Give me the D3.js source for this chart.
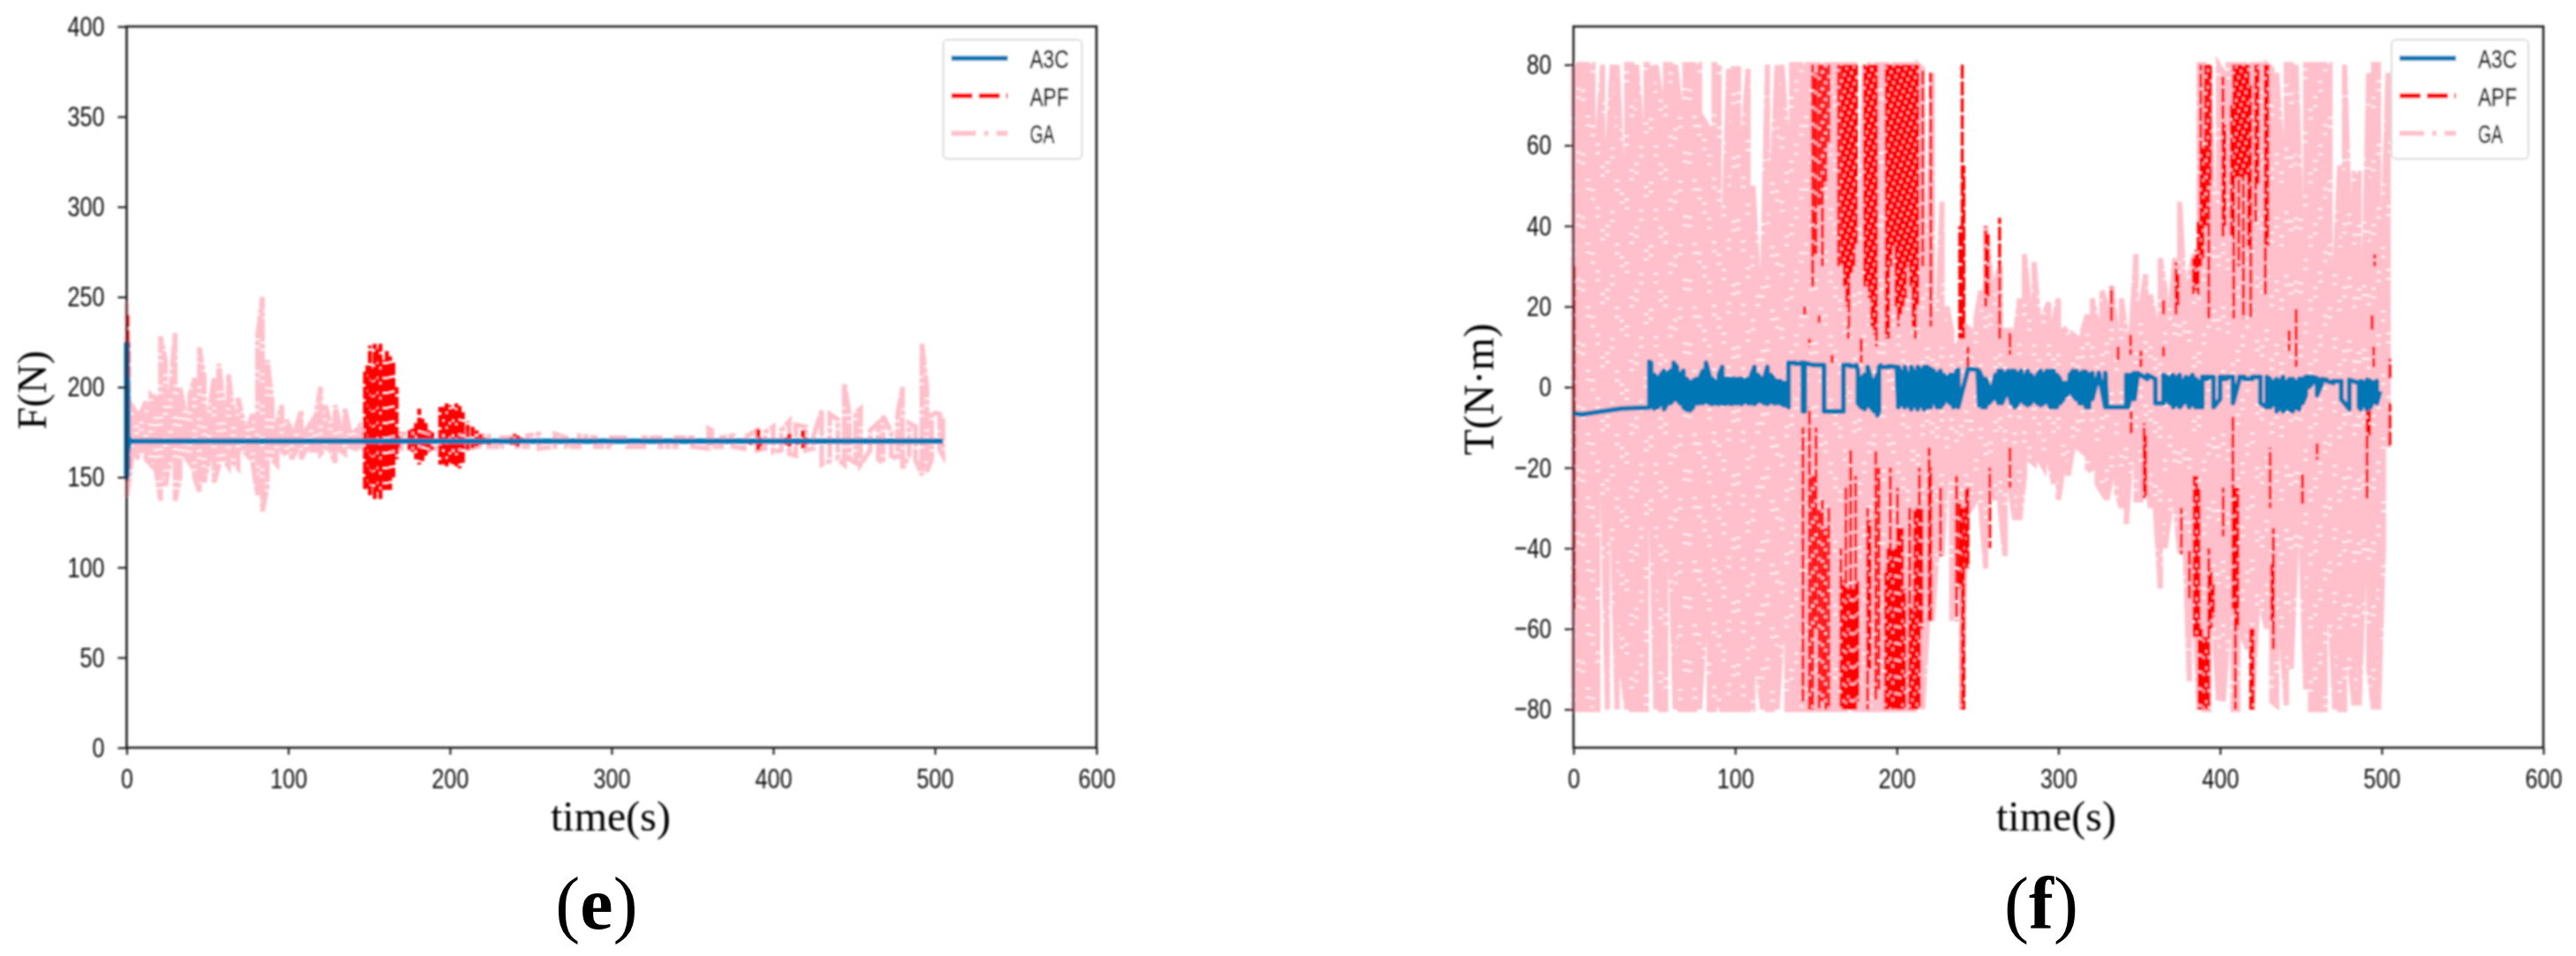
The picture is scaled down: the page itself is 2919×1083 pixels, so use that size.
<!DOCTYPE html>
<html><head><meta charset="utf-8">
<script src="https://cdnjs.cloudflare.com/ajax/libs/d3/7.8.5/d3.min.js"></script>
<style>html,body{margin:0;padding:0;background:#fff}svg{display:block}</style>
</head><body><svg id="c" width="2919" height="1083"></svg>
<script>
// ---------- shared labels ----------
const seriesNames = ["A3C","APF","GA"];
const xTicks = [0,100,200,300,400,500,600];
const yTicksF = [0,50,100,150,200,250,300,350,400];
const yTicksT = [-80,-60,-40,-20,0,20,40,60,80];

// ---------- panel (e) F(N) ----------
const fGaT  = [0,3,6,9,12,15,18,21,24,27,30,33,36,39,42,45,48,51,54,57,60,63,66,69,72,75,78,81,84,87,90,93,96,99,102,105,108,111,114,117,120,123,126,129,132,135,138,141,144,147,152,158,164,170,176,182,188,194,200,206,212,218,224,232,240,248,255,265,272,280,290,300,310,320,330,340,350,360,362,368,375,382,390,395,400,405,410,414,420,425,430,435,440,444,447,451,454,460,465,468,473,477,480,484,488,492,495,498,503,505];
const fGaHi = [247,190,186,186,192,196,194,228,215,195,230,200,186,195,205,222,205,185,205,213,190,207,185,194,182,178,185,228,250,215,192,180,190,182,176,178,187,176,180,184,200,190,180,190,178,188,176,175,178,176,175,175,174,174,174,174,174,174,174,174,174,173,173,172,172,173,174,174,172,173,172,172,172,172,172,172,172,177,176,172,173,172,176,175,178,176,181,179,178,173,187,185,182,202,185,186,188,176,180,184,175,185,200,180,178,224,200,186,185,184];
const fGaLo = [139,158,160,165,160,157,155,137,145,160,137,150,162,158,150,142,147,160,147,156,160,156,158,155,165,162,158,140,131,145,160,157,165,162,160,165,160,166,165,165,163,166,165,158,165,163,167,166,166,165,165,165,165,166,166,166,166,166,166,166,166,167,167,167,167,167,166,167,167,167,167,167,167,167,167,167,167,166,167,167,167,166,165,166,164,165,163,162,165,166,157,159,160,157,160,158,157,165,160,158,162,160,155,162,160,151,153,160,165,162];

const fApfT  = [0.4,1,147.5,149,150.5,152,153.5,155,157,159,161,163,165,167,168,175,177,179,181,183,185,187,189,194,196,198,200,202,204,206,208,211,214,216.5,219,221,224,238,240,242,244,386,390.7,392,408,410,415,418.5,420];
const fApfHi = [240,225,210,212,223,210,224,222,224,215,220,217,214,200,175,176,177,180,188,184,180,176,175,189,190,191,190,188,191,190,186,181,178,176,174,172,172,172,174,173,172,172,176.6,172,172,174,172,176,172];
const fApfLo = [148,155,143,144,140,146,138,142,138,143,143,143,150,160,165,165,164,160,157,158,162,164,165,157,157,156,158,157,156,155,158,165,166,167,168,168,168,168,168,167,168,168,165,167,168,167,168,166,168];

const fA3cT  = [0,0.4,0.8,1.2,2,4,10,40,80,120,160,200,240,280,320,360,400,440,480,505];
const fA3cHi = [225,205,180,172,170,170,170,170,170,170,170,170,170,170,170,170,170,170,170,170];
const fA3cLo = [150,155,165,168,170,170,170,170,170,170,170,170,170,170,170,170,170,170,170,170];

// ---------- panel (f) T(N*m) ----------
const tGaT = [0,3,6,9,12,15,18,21,24,27,
 30,33,36,39,42,45,48,51,54,57,
 60,63,66,69,72,75,78,81,84,87,
 90,93,96,99,102,105,108,111,114,117,
 120,123,126,129,132,135,138,141,144,147,
 150,153,156,159,162,165,168,171,174,177,
 180,183,186,189,192,195,198,201,204,207,
 210,213,216,219,222,225,228,231,234,237,
 240,243,246,249,252,255,258,261,264,267,
 270,273,276,279,282,285,288,291,294,297,
 300,303,306,309,312,315,318,321,324,327,
 330,333,336,339,342,345,348,351,354,357,
 360,363,366,369,372,375,378,381,384,387,
 390,393,396,399,402,405,408,411,414,417,
 420,423,426,429,432,435,438,441,444,447,
 450,453,456,459,462,465,468,471,474,477,
 480,483,486,489,492,495,498,501,504];
const tGaHi = [80,80,80,80,80,62,80,58,80,80,
 54,80,80,80,64,80,80,80,72,80,
 80,80,70,80,80,80,80,66,64,80,
 80,37,79,79,79,62,79,50,28,25,
 80,52,80,80,62,80,80,80,80,80,
 80,80,80,80,80,80,80,80,80,33,
 80,80,80,80,80,80,80,80,80,80,
 80,80,79,30,78,14,46,20,14,10,
 12,15,14,17,24,40,28,26,30,14,
 14,12,22,33,20,31,15,18,21,16,
 22,15,13,13,12,14,18,22,16,24,
 20,25,14,22,13,13,33,20,28,23,
 16,32,24,18,32,46,23,28,33,80,
 80,80,42,80,78,80,80,80,80,80,
 80,80,80,80,79,78,60,80,80,80,
 42,80,80,80,80,80,80,28,55,80,
 42,53,53,25,78,80,80,40,78];
const tGaLo = [-80,-80,-80,-80,-80,-80,-20,-80,-30,-80,
 -70,-80,-80,-80,-80,-80,-28,-80,-80,-80,
 -40,-80,-80,-80,-80,-80,-80,-60,-80,-80,
 -80,-80,-80,-80,-80,-80,-80,-80,-70,-80,
 -80,-80,-80,-60,-80,-80,-80,-80,-80,-80,
 -80,-80,-80,-80,-80,-80,-80,-80,-80,-80,
 -80,-80,-80,-80,-80,-80,-80,-80,-80,-80,
 -80,-80,-80,-58,-58,-40,-42,-20,-58,-40,
 -80,-30,-30,-28,-30,-45,-25,-28,-30,-42,
 -25,-33,-33,-22,-18,-19,-18,-20,-18,-24,
 -28,-20,-22,-15,-15,-16,-21,-20,-24,-26,
 -28,-22,-26,-30,-34,-16,-28,-28,-22,-30,
 -30,-50,-40,-31,-28,-41,-35,-73,-53,-80,
 -80,-80,-58,-78,-78,-60,-80,-80,-62,-65,
 -80,-55,-55,-60,-78,-79,-62,-79,-70,-40,
 -35,-75,-80,-80,-80,-80,-55,-80,-80,-80,
 -68,-79,-79,-45,-70,-80,-80,-40,-15];

// APF torque: separate vertical bursts
const tApfT = [0.4,148,150,152,154,156,158,164,166,167.5,169,170.5,172,173.5,175,180,181.5,183,184.5,186,187.5,193.5,195,196.5,198,199.5,201,202.5,204,205.5,207,208.5,210,211.5,213,216,221,239,240.5,241.5,255,256.5,263.6,270,143,146,152,160,170,178,244,
 332.8,344.7,351,365,365,372.7,374,383.5,385,386.5,388,389.5,391,393,394,401.8,403,407,408.5,410,411.5,413,414.5,416,417.5,419,422,423.5,428,429.5,447,442.7,495.6,494,495,505,337,
 142,146,148,150,152,154,156,158,165.5,167,168.5,170,171.5,173,174.5,176,182,183.5,187,189,193,194.5,196,197.5,199,200.5,202,203.5,205,208,209.5,211,212.5,214,215.5,220,221,227,237,239,240.5,241.5,243,244,257.5,270,
 345,353,354,376,381,384,385.5,387,388.5,390,391.5,393,394.5,396,402,408,409.5,411,419,420.5,431,432,433,451,460,491,492.5,505];
const tApfHi = [30,80,78,80,80,80,80,80,80,80,80,80,80,80,80,80,80,80,80,80,80,80,80,80,80,80,80,80,80,80,80,80,80,80,80,79,78,40,80,55,40,38,42,14,20,12,18,8,15,12,10,
 25,13,9,22,10,31,28,32,34,41,80,60,80,80,80,77,65,70,80,80,80,80,80,80,80,75,80,80,80,80,20,14,33,18,10,7,10,
 -10,-5,-22,-10,-30,-28,-35,-30,-40,-48,-25,-50,-15,-50,-22,-48,-30,-33,-16,-20,-45,-40,-20,-40,-40,-25,-35,-35,-50,-30,-55,-30,-30,-20,-30,-15,-20,-25,-22,-28,-30,-30,-25,-25,-20,-15,
 -6,-9,-12,-30,-40,-22,-22,-25,-60,-62,-62,-40,-45,-49,-25,-7,-25,-25,-60,-60,-15,-44,-35,-21,-14,-6,-5,-4];
const tApfLo = [-55,25,33,45,30,50,60,30,30,25,20,15,28,30,35,25,25,22,15,13,10,12,12,30,35,20,15,18,20,22,30,25,15,12,20,30,15,12,12,12,20,22,12,8,18,10,16,6,12,6,5,
 16,8,5,18,7,18,20,23,24,23,30,32,40,17,50,37,40,37,17,52,30,52,17,52,35,17,41,50,23,35,5,9,30,14,5,2,6,
 -78,-80,-80,-60,-80,-78,-80,-80,-80,-80,-80,-80,-80,-80,-80,-78,-80,-70,-78,-75,-80,-80,-80,-80,-80,-80,-80,-80,-80,-80,-80,-80,-80,-80,-60,-58,-58,-42,-58,-50,-80,-80,-45,-45,-40,-25,
 -11.5,-27.6,-27,-41.5,-53,-62,-62,-80,-80,-80,-80,-80,-60,-57,-37,-55,-80,-60,-80,-80,-30,-58,-65,-29,-18,-27.6,-12,-15];

const tA3cT  = [0,5,15,30,46,47,48,50,52,54,56,58,60,62,64,66,68,70,72,74,76,78,80,82,84,86,88,90,92,94,96,98,100,102,104,106,108,110,112,114,116,118,120,122,124,126,128,130,132,133,137,141,142,143,148,154,155,160,166,167,171,175,176,178,180,182,184,186,188,189,190,195,200,201,203,205,207,209,211,213,215,217,219,221,223,225,227,229,231,233,235,237,238,244,250,251,253,255,257,259,261,263,265,267,269,271,273,275,277,279,281,283,285,287,289,291,293,295,297,299,301,303,305,307,309,311,313,315,317,319,321,325,329,330,336,342,343,345,347,349,351,355,360,365,367,369,371,373,375,377,379,381,383,385,387,389,391,392,396,400,402,404,408,412,415,420,425,429,431,433,435,437,439,441,443,445,447,449,451,453,455,457,460,463,466,470,475,480,486,487,489,491,493,495,497,499,501,503,505];
const tA3cHi = [-6.5,-6.8,-6.2,-5.3,-5.1,6.3,6,3,2,3,4,3,4,6,5,3,4,2,1,1.5,2,2,4,6,3,2,1,3,5,2,2,2,2,2,2,1.5,2,3,5,3,2,2,5,3,2,1.5,1.5,1,1,6,6,6,6,6,5.5,5.5,5.5,-6,-6,5.5,5.5,5.5,4,2,3,5,2,1,3,5,5.4,5.2,5,5,3,5,2,5,3,5,4,5,5,4.5,4,3,4,3,2,3,3,4,4.3,4.5,4.3,4,2,2,0,-1,3,4,4,3,4,4,4,3,4,2,4,3,2,3,4,3,4,4,4,3,2,1,1,3,4,4,3,3.8,3.8,3,3.5,3.5,-5,-5,-5,3,3,3,3.5,3.5,3,3,2,3,2.5,2,3,2,3,1,2.5,2,3,2,1,2.5,2.5,2.5,2.5,2.5,2.5,2.5,2.5,2.5,2.5,2.5,2.5,2.5,2,1,2,1,2.5,1,2,2,1,2,2,2.5,2.5,2.5,2.2,2,1.8,1.5,1.5,1.8,1,1.5,1,1.8,1.5,1,1.5];
const tA3cLo = [-6.5,-6.8,-6.2,-5.3,-5.1,-5,-4.5,-5.3,-5,-4,-5.5,-4,-4,-3,-3,-4,-5,-5.6,-5.8,-5,-4,-4,-4,-3.5,-4,-4.2,-4,-4.2,-4,-4.2,-4,-4.2,-4,-4,-4.2,-3.5,-4,-4,-4.2,-3.5,-3.5,-4,-4.2,-3.5,-4,-4,-4,-4.5,-4.5,-5,5.8,5.8,-6,-6,5.5,5.5,-6,-6,-6,-6,5.2,5.2,-4,-5,-5.5,-4,-5,-6,-7,-6,5,5,5,-5,-4,-5,-4,-5.5,-4,-5.5,-4,-5.5,-5,-5,-3,-5,-5,-4,-3,-4,-5,-4,-5,4.3,4.3,-4.5,-5,-5,-4,-3,-2,-4,-4,-2,-1,-4,-5,-4,-3,-4,-4.5,-4,-3,-4,-4.5,-4,-3,-5,-5,-5,-4,-3,-2,-1,-2,-3,-4,-4,-5,-5,-3,3.5,3.5,-5,-5,-5,-5,-2,-3,3,3,2,-4,-4,-3,-4,-5,-4,-5,-4,-3,-5,-4,-5,-5,-5,2,2,-5,-3,2,2,-4,2,2,2,-4,-5,-5,-4,-6,-5,-6,-5,-5.5,-6,-5,-5.5,-4,-2,0,1,-2,1,1.5,1,-3,-5.5,-5,-5.5,-4,-5.5,-5,-3,-4,-1];

// ---------- styles ----------
const colors = {A3C:"#0076b4", APF:"#ff0000", GA:"#ffc0cb"};

const svg = d3.select("#c");
const defs = svg.append("defs");
defs.append("filter").attr("id","soft").attr("x","-5%").attr("y","-5%").attr("width","110%").attr("height","110%")
  .append("feGaussianBlur").attr("stdDeviation",0.8);

const legendDash = {A3C:null, APF:"24,7", GA:"28,9,5,9"};

function square(t,hi,lo){
  const pts=[];
  t.forEach((v,i)=>{
    if(i%2===0){pts.push([v,hi[i]],[v,lo[i]]);} else {pts.push([v,lo[i]],[v,hi[i]]);}
  });
  return pts;
}

function panel(cfg){
  const x = d3.scaleLinear().domain([0,600]).range([cfg.left,cfg.right]);
  const y = d3.scaleLinear().domain(cfg.yDomain).range([cfg.bottom,cfg.top]);
  const g = svg.append("g").attr("filter","url(#soft)");
  const line = d3.line().x(d=>x(d[0])).y(d=>y(d[1]));

  // GA
  g.append("path").attr("d",line(square(cfg.gaT,cfg.gaHi,cfg.gaLo)))
    .attr("fill","none").attr("stroke",colors.GA).attr("stroke-width",cfg.gaW)
    .attr("stroke-dasharray",cfg.gaDash);
  // APF: vertical bursts
  g.selectAll(null).data(cfg.apfT).enter().append("path")
    .attr("d",(d,i)=>line([[d,cfg.apfHi[i]],[d,cfg.apfLo[i]]]))
    .attr("fill","none").attr("stroke",colors.APF).attr("stroke-width",cfg.apfW)
    .attr("stroke-dasharray",cfg.apfDash).attr("stroke-dashoffset",(d,i)=>i*7);
  // A3C
  g.append("path").attr("d",line(square(cfg.a3cT,cfg.a3cHi,cfg.a3cLo)))
    .attr("fill","none").attr("stroke",colors.A3C).attr("stroke-width",cfg.a3cW).attr("stroke-linejoin","round");

  // frame
  g.append("rect").attr("x",cfg.left).attr("y",cfg.top).attr("width",cfg.right-cfg.left).attr("height",cfg.bottom-cfg.top)
    .attr("fill","none").attr("stroke","#222").attr("stroke-width",2.6);

  const narrow = s => s.attr("font-family","'Liberation Sans',Arial,sans-serif").attr("font-size",32).attr("fill","#111")
      .attr("lengthAdjust","spacingAndGlyphs").attr("textLength",function(){return this.textContent.length*14;});

  const ax = g.append("g").attr("transform",`translate(0,${cfg.bottom})`)
    .call(d3.axisBottom(x).tickValues(xTicks).tickSize(8).tickPadding(15).tickFormat(d3.format("d")));
  const ay = g.append("g").attr("transform",`translate(${cfg.left},0)`)
    .call(d3.axisLeft(y).tickValues(cfg.yTicks).tickSize(10).tickPadding(15).tickFormat(d=>String(d).replace("-","\u2212")));
  [ax,ay].forEach(a=>{
    a.select(".domain").remove();
    a.selectAll("line").attr("stroke","#222").attr("stroke-width",2.2);
    a.selectAll("text").call(narrow);
  });

  // axis titles
  g.append("text").attr("x",cfg.xLabelX).attr("y",941).attr("text-anchor","middle")
    .attr("font-family","'Liberation Serif',serif").attr("font-size",48).attr("fill","#000").text("time(s)");
  g.append("text").attr("transform",`translate(${cfg.yLabelX},${cfg.yLabelY}) rotate(-90)`).attr("text-anchor","middle")
    .attr("font-family","'Liberation Serif',serif").attr("font-size",cfg.yLabelSize).attr("fill","#000").text(cfg.yLabel);

  // legend
  const lg = g.append("g");
  lg.append("rect").attr("x",cfg.legX).attr("y",45).attr("width",cfg.legW).attr("height",135).attr("rx",5)
    .attr("fill","#fff").attr("fill-opacity",0.85).attr("stroke","#dcdcdc").attr("stroke-width",2);
  const legY = d3.scalePoint().domain(seriesNames).range([66,151]);
  seriesNames.forEach(n=>{
    lg.append("line").attr("x1",cfg.legX+9).attr("x2",cfg.legX+73).attr("y1",legY(n)).attr("y2",legY(n))
      .attr("stroke",colors[n]).attr("stroke-width",5.5).attr("stroke-dasharray",legendDash[n]);
    lg.append("text").attr("x",cfg.legX+98).attr("y",legY(n)+11)
      .attr("font-family","'Liberation Sans',sans-serif").attr("font-size",30).attr("fill","#000")
      .attr("stroke","#000").attr("stroke-width",0.5)
      .attr("lengthAdjust","spacingAndGlyphs").attr("textLength",n==="GA"?28:44).text(n);
  });

  // caption
  const cap = svg.append("text").attr("x",cfg.capX).attr("y",1052).attr("text-anchor","middle")
    .attr("font-family","'Liberation Serif',serif").attr("font-size",84).attr("fill","#000");
  cap.append("tspan").text("(");
  cap.append("tspan").attr("font-weight","bold").text(cfg.cap);
  cap.append("tspan").text(")");
}

panel({left:143.5,right:1242.5,top:30,bottom:847,yDomain:[0,400],yTicks:yTicksF,
  gaT:fGaT,gaHi:fGaHi,gaLo:fGaLo,gaW:5.5,gaDash:"26,2,6,2",
  apfT:fApfT,apfHi:fApfHi,apfLo:fApfLo,apfW:4.5,apfDash:"14,3",
  a3cT:fA3cT,a3cHi:fA3cHi,a3cLo:fA3cLo,a3cW:6,
  xLabelX:692,yLabelX:52,yLabelY:442,yLabel:"F(N)",yLabelSize:46,legX:1069,legW:157,capX:676,cap:"e"});

panel({left:1783,right:2882,top:30,bottom:847,yDomain:[-89.5,89.5],yTicks:yTicksT,
  gaT:tGaT,gaHi:tGaHi,gaLo:tGaLo,gaW:6,gaDash:"60,2,8,2",
  apfT:tApfT,apfHi:tApfHi,apfLo:tApfLo,apfW:3.4,apfDash:"16,3",
  a3cT:tA3cT,a3cHi:tA3cHi,a3cLo:tA3cLo,a3cW:5.5,
  xLabelX:2330,yLabelX:1692,yLabelY:441,yLabel:"T(N\u00b7m)",yLabelSize:48,legX:2710,legW:155,capX:2313,cap:"f"});
</script></body></html>
